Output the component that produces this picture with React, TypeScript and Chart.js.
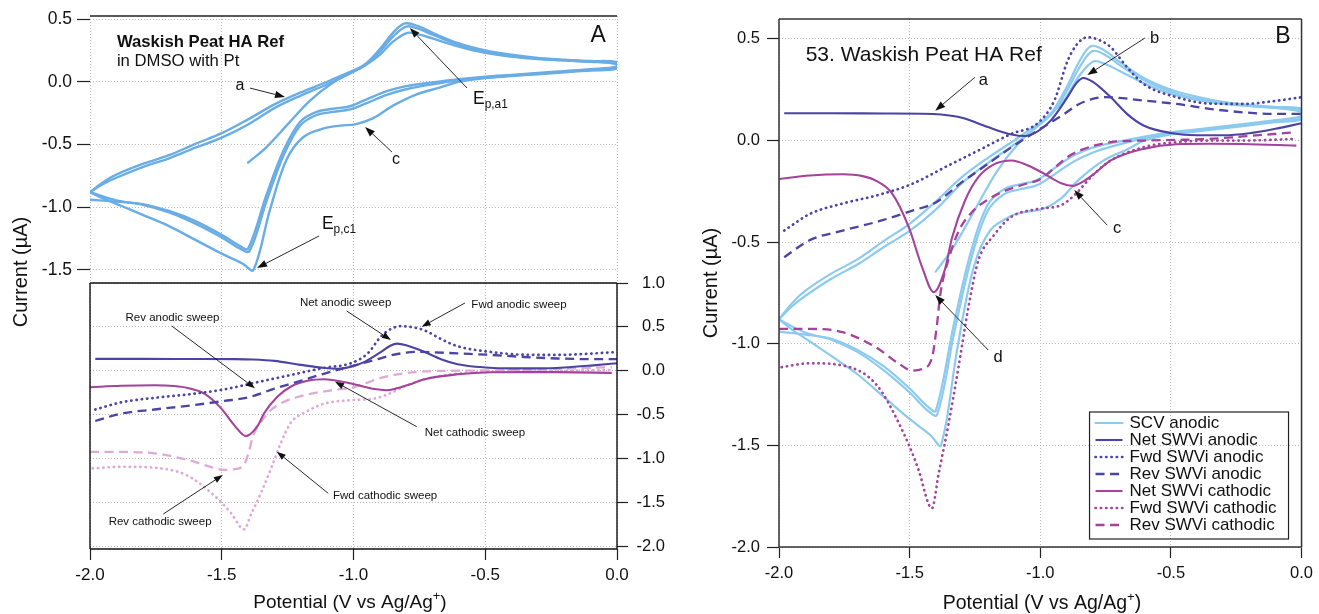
import React, { useEffect, useRef } from 'react';
import { Chart, registerables } from 'chart.js';
Chart.register(...registerables);

const FONT = '"Liberation Sans", Arial, Helvetica, sans-serif';
Chart.defaults.font.family = FONT;
Chart.defaults.color = '#111';

// ---------------- tick values ----------------
const xTicks = [-2.0, -1.5, -1.0, -0.5, 0.0];
const scvTopTicks = [0.5, 0.0, -0.5, -1.0, -1.5];
const swvRightTicks = [1.0, 0.5, 0.0, -0.5, -1.0, -1.5, -2.0];
const panelBTicks = [0.5, 0.0, -0.5, -1.0, -1.5, -2.0];

type P = [number, number];

// ---------------- SCV (staircase cyclic voltammetry), 3 cycles ----------------
const scv1Anodic: P[] = [[-1.40,-0.645],[-1.33,-0.52],[-1.25,-0.34],[-1.165,-0.15],[-1.08,-0.01],[-1.0,0.085],[-0.95,0.15],[-0.9,0.26],[-0.85,0.39],[-0.805,0.465],[-0.75,0.44],[-0.7,0.39],[-0.6,0.305],[-0.5,0.25],[-0.4,0.215],[-0.3,0.19],[-0.2,0.175],[-0.1,0.165],[0,0.155]];
const scv1Cathodic: P[] = [[0,0.105],[-0.1,0.09],[-0.2,0.075],[-0.3,0.06],[-0.4,0.045],[-0.5,0.03],[-0.6,0.0],[-0.67,-0.045],[-0.76,-0.10],[-0.85,-0.19],[-0.925,-0.29],[-0.99,-0.337],[-1.05,-0.35],[-1.11,-0.37],[-1.19,-0.44],[-1.254,-0.62],[-1.317,-1.02],[-1.38,-1.50],[-1.42,-1.45],[-1.5,-1.37],[-1.6,-1.26],[-1.7,-1.15],[-1.8,-1.06],[-1.88,-0.99],[-1.95,-0.93],[-2.0,-0.88]];
const scv2Anodic: P[] = [[-2.0,-0.88],[-1.95,-0.815],[-1.9,-0.765],[-1.8,-0.68],[-1.7,-0.61],[-1.6,-0.525],[-1.5,-0.445],[-1.4,-0.34],[-1.3,-0.21],[-1.2,-0.11],[-1.1,-0.02],[-1.0,0.08],[-0.95,0.14],[-0.9,0.24],[-0.85,0.36],[-0.8,0.44],[-0.75,0.42],[-0.7,0.375],[-0.6,0.295],[-0.5,0.24],[-0.4,0.205],[-0.3,0.185],[-0.2,0.17],[-0.1,0.16],[0,0.14]];
const scv2Cathodic: P[] = [[0,0.11],[-0.1,0.095],[-0.2,0.08],[-0.3,0.065],[-0.4,0.05],[-0.5,0.035],[-0.6,0.012],[-0.7,-0.02],[-0.8,-0.06],[-0.874,-0.105],[-0.95,-0.17],[-1.013,-0.22],[-1.077,-0.24],[-1.14,-0.265],[-1.203,-0.35],[-1.266,-0.59],[-1.33,-0.95],[-1.395,-1.35],[-1.43,-1.33],[-1.5,-1.24],[-1.6,-1.13],[-1.7,-1.04],[-1.8,-0.98],[-1.9,-0.945],[-2.0,-0.88]];
const scv3Anodic: P[] = [[-2.0,-0.88],[-1.95,-0.80],[-1.9,-0.74],[-1.8,-0.655],[-1.7,-0.585],[-1.6,-0.495],[-1.5,-0.41],[-1.4,-0.30],[-1.3,-0.18],[-1.2,-0.085],[-1.1,0.0],[-1.0,0.09],[-0.95,0.14],[-0.9,0.215],[-0.85,0.32],[-0.795,0.39],[-0.75,0.375],[-0.7,0.345],[-0.6,0.28],[-0.5,0.23],[-0.4,0.2],[-0.3,0.18],[-0.2,0.17],[-0.1,0.16],[0,0.15]];
const scv3Cathodic: P[] = [[0,0.12],[-0.1,0.1],[-0.2,0.085],[-0.3,0.07],[-0.4,0.055],[-0.5,0.04],[-0.6,0.02],[-0.7,-0.005],[-0.8,-0.035],[-0.874,-0.075],[-0.95,-0.14],[-1.013,-0.195],[-1.077,-0.215],[-1.14,-0.24],[-1.203,-0.32],[-1.266,-0.55],[-1.33,-0.90],[-1.40,-1.33],[-1.43,-1.31],[-1.5,-1.22],[-1.6,-1.11],[-1.7,-1.03],[-1.8,-0.975],[-1.9,-0.955],[-2.0,-0.94]];

// ---------------- SWVi sweeps ----------------
const netAnodic: P[] = [[-1.98,0.134],[-1.8,0.134],[-1.6,0.133],[-1.45,0.132],[-1.38,0.128],[-1.3,0.112],[-1.2,0.066],[-1.11,0.03],[-1.06,0.022],[-1.01,0.045],[-0.96,0.098],[-0.9,0.205],[-0.86,0.285],[-0.835,0.308],[-0.80,0.29],[-0.73,0.213],[-0.668,0.131],[-0.605,0.074],[-0.5,0.037],[-0.4,0.026],[-0.3,0.026],[-0.2,0.036],[-0.1,0.058],[0,0.085]];
const fwdAnodic: P[] = [[-1.98,-0.443],[-1.88,-0.36],[-1.756,-0.31],[-1.617,-0.267],[-1.49,-0.213],[-1.364,-0.131],[-1.237,-0.049],[-1.11,0.033],[-1.01,0.085],[-0.946,0.197],[-0.896,0.39],[-0.858,0.476],[-0.82,0.508],[-0.77,0.492],[-0.73,0.459],[-0.668,0.361],[-0.605,0.279],[-0.478,0.213],[-0.352,0.182],[-0.225,0.18],[-0.1,0.195],[0,0.213]];
const revAnodic: P[] = [[-1.98,-0.574],[-1.882,-0.49],[-1.756,-0.443],[-1.617,-0.397],[-1.49,-0.345],[-1.40,-0.305],[-1.30,-0.205],[-1.237,-0.148],[-1.11,-0.033],[-1.01,0.049],[-0.908,0.131],[-0.858,0.175],[-0.80,0.205],[-0.756,0.214],[-0.7,0.21],[-0.605,0.197],[-0.478,0.18],[-0.352,0.156],[-0.225,0.139],[-0.1,0.131],[0,0.131]];
const netCathodic: P[] = [[-2.0,-0.189],[-1.882,-0.172],[-1.756,-0.166],[-1.68,-0.175],[-1.63,-0.197],[-1.566,-0.262],[-1.503,-0.427],[-1.452,-0.624],[-1.408,-0.746],[-1.364,-0.63],[-1.338,-0.48],[-1.288,-0.295],[-1.237,-0.18],[-1.174,-0.115],[-1.11,-0.098],[-1.047,-0.123],[-0.984,-0.164],[-0.92,-0.21],[-0.875,-0.223],[-0.84,-0.205],[-0.794,-0.164],[-0.73,-0.098],[-0.605,-0.041],[-0.478,-0.018],[-0.352,-0.016],[-0.225,-0.017],[-0.02,-0.025]];
const fwdCathodic: P[] = [[-1.99,-1.115],[-1.882,-1.096],[-1.756,-1.107],[-1.63,-1.197],[-1.54,-1.394],[-1.465,-1.624],[-1.427,-1.79],[-1.415,-1.81],[-1.389,-1.64],[-1.351,-1.394],[-1.313,-1.116],[-1.275,-0.82],[-1.237,-0.59],[-1.18,-0.47],[-1.11,-0.375],[-1.01,-0.337],[-0.92,-0.318],[-0.87,-0.27],[-0.794,-0.164],[-0.73,-0.098],[-0.605,-0.033],[-0.478,-0.008],[-0.352,0.0],[-0.225,0.0],[-0.02,0.008]];
const revCathodic: P[] = [[-2.0,-0.927],[-1.882,-0.927],[-1.756,-0.943],[-1.63,-1.017],[-1.54,-1.099],[-1.49,-1.132],[-1.452,-1.124],[-1.414,-1.066],[-1.395,-0.902],[-1.383,-0.76],[-1.35,-0.58],[-1.31,-0.44],[-1.26,-0.35],[-1.2,-0.29],[-1.14,-0.25],[-1.06,-0.215],[-1.0,-0.19],[-0.95,-0.14],[-0.9,-0.085],[-0.84,-0.045],[-0.73,-0.008],[-0.605,0.0],[-0.478,0.003],[-0.352,0.008],[-0.225,0.02],[-0.02,0.041]];

// ---------------- styles ----------------
const SCV_A = '#69ade4';
const SCV_B = '#8ccaef';
const ANODIC = '#4b44a5';
const CATHODIC = '#a3439c';
const CATHODIC_LIGHT = '#dfa9d5';
const GRID = '#b8b8b8';
const GRID_DASH = [1, 2];
const DOT = [0.3, 5];
const DASH = [9, 5.5];

type Seg = { t: string; sup?: boolean; sub?: boolean };

function drawRich(ctx: CanvasRenderingContext2D, segs: Seg[], x: number, y: number, size: number, weight: string, align: string, rotate = false) {
  const fontFor = (s: Seg) => `${weight} ${s.sup || s.sub ? size * 0.68 : size}px ${FONT}`;
  const widths = segs.map((s) => { ctx.font = fontFor(s); return ctx.measureText(s.t).width; });
  const total = widths.reduce((a, b) => a + b, 0);
  ctx.save();
  ctx.translate(x, y);
  if (rotate) ctx.rotate(-Math.PI / 2);
  let cx = align === 'left' ? 0 : align === 'right' ? -total : -total / 2;
  ctx.textBaseline = 'middle';
  ctx.textAlign = 'left';
  ctx.fillStyle = '#111';
  segs.forEach((s, i) => {
    ctx.font = fontFor(s);
    const dy = s.sup ? -size * 0.36 : s.sub ? size * 0.32 : 0;
    ctx.fillText(s.t, cx, dy);
    cx += widths[i];
  });
  ctx.restore();
}

function drawArrow(ctx: CanvasRenderingContext2D, x1: number, y1: number, x2: number, y2: number, L: number) {
  const ang = Math.atan2(y2 - y1, x2 - x1);
  const Wd = L * 0.36;
  const bx = x2 - L * Math.cos(ang), by = y2 - L * Math.sin(ang);
  ctx.strokeStyle = '#111';
  ctx.lineWidth = 0.9;
  ctx.setLineDash([]);
  ctx.beginPath(); ctx.moveTo(x1, y1); ctx.lineTo(bx, by); ctx.stroke();
  ctx.fillStyle = '#111';
  ctx.beginPath();
  ctx.moveTo(x2, y2);
  ctx.lineTo(bx + Wd * Math.sin(ang), by - Wd * Math.cos(ang));
  ctx.lineTo(bx - Wd * Math.sin(ang), by + Wd * Math.cos(ang));
  ctx.closePath(); ctx.fill();
}

type Note = { segs: Seg[]; x: number; y: number; size: number; bold?: boolean; align?: string; arrow?: number[]; head?: number };

const notesPlugin = (id: string, notes: Note[]) => ({
  id,
  afterDatasetsDraw(chart: any) {
    const { ctx } = chart;
    const xs = chart.scales.x, ys = chart.scales.y;
    ctx.save();
    for (const n of notes) {
      if (n.arrow) {
        const [a, b, c, d] = n.arrow;
        drawArrow(ctx, xs.getPixelForValue(a), ys.getPixelForValue(b), xs.getPixelForValue(c), ys.getPixelForValue(d), n.head || 10);
      }
      drawRich(ctx, n.segs, xs.getPixelForValue(n.x), ys.getPixelForValue(n.y), n.size, n.bold ? 'bold' : 'normal', n.align || 'center');
    }
    ctx.restore();
  },
});

type Title = { segs: Seg[]; x: number; y: number; size: number; rotate?: boolean };
const titlesPlugin = (id: string, titles: Title[]) => ({
  id,
  afterDraw(chart: any) {
    for (const t of titles) drawRich(chart.ctx, t.segs, t.x, t.y, t.size, 'normal', 'center', !!t.rotate);
  },
});

const framePlugin = (id: string, sides: string[], color: string, width: number) => ({
  id,
  afterDraw(chart: any) {
    const { ctx, chartArea: ca } = chart;
    ctx.save();
    ctx.strokeStyle = color; ctx.lineWidth = width; ctx.setLineDash([]);
    ctx.beginPath();
    if (sides.includes('top')) { ctx.moveTo(ca.left, ca.top); ctx.lineTo(ca.right, ca.top); }
    if (sides.includes('right')) { ctx.moveTo(ca.right, ca.top); ctx.lineTo(ca.right, ca.bottom); }
    if (sides.includes('bottom')) { ctx.moveTo(ca.left, ca.bottom); ctx.lineTo(ca.right, ca.bottom); }
    if (sides.includes('left')) { ctx.moveTo(ca.left, ca.top); ctx.lineTo(ca.left, ca.bottom); }
    ctx.stroke();
    ctx.restore();
  },
});

const legendPlugin = {
  id: 'legendB',
  afterDraw(chart: any) {
    const { ctx, chartArea: ca } = chart;
    const w = 199, h = 127;
    const x0 = ca.right - 13 - w, y0 = ca.bottom - 8 - h;
    ctx.save();
    ctx.strokeStyle = '#222'; ctx.lineWidth = 1.2; ctx.setLineDash([]);
    ctx.strokeRect(x0, y0, w, h);
    const items = chart.data.datasets.filter((d: any) => d.legendRank !== undefined).sort((a: any, b: any) => a.legendRank - b.legendRank);
    items.forEach((d: any, i: number) => {
      const yy = y0 + 11 + i * 17;
      ctx.strokeStyle = d.borderColor; ctx.lineWidth = d.borderWidth;
      ctx.lineCap = d.borderCapStyle || 'butt';
      ctx.setLineDash(d.borderDash || []);
      ctx.beginPath(); ctx.moveTo(x0 + 6, yy); ctx.lineTo(x0 + 33, yy); ctx.stroke();
      ctx.setLineDash([]);
      ctx.fillStyle = '#111'; ctx.font = `17px ${FONT}`; ctx.textBaseline = 'middle'; ctx.textAlign = 'left';
      ctx.fillText(d.label, x0 + 40, yy);
    });
    ctx.restore();
  },
};

const pts = (a: P[]) => a.map(([x, y]) => ({ x, y }));

function scvSets(color: string, width: number) {
  const cycles = [[...scv1Anodic, ...scv1Cathodic], [...scv2Anodic, ...scv2Cathodic], [...scv3Anodic, ...scv3Cathodic]];
  return cycles.map((c, i) => ({
    label: i === 0 ? 'SCV anodic' : '',
    legendRank: i === 0 ? 0 : undefined,
    data: pts(c), borderColor: color, borderWidth: width, tension: 0.35, pointRadius: 0, fill: false,
    borderCapStyle: 'round', borderJoinStyle: 'round',
  }));
}

function swvSets(cathLight: boolean) {
  const cc = cathLight ? CATHODIC_LIGHT : CATHODIC;
  const mk = (label: string, data: P[], color: string, kind: string, rank: number) => ({
    label, legendRank: rank, data: pts(data), borderColor: color,
    borderWidth: kind === 'dot' ? 2.7 : kind === 'dash' ? 2.3 : 2.1,
    borderDash: kind === 'dot' ? DOT : kind === 'dash' ? DASH : [],
    borderCapStyle: kind === 'dot' ? 'round' : 'butt',
    cubicInterpolationMode: 'monotone', pointRadius: 0, fill: false,
  });
  return [
    mk('Net SWVi anodic', netAnodic, ANODIC, 'solid', 1),
    mk('Fwd SWVi anodic', fwdAnodic, ANODIC, 'dot', 2),
    mk('Rev SWVi anodic', revAnodic, ANODIC, 'dash', 3),
    mk('Net SWVi cathodic', netCathodic, CATHODIC, 'solid', 4),
    mk('Fwd SWVi cathodic', fwdCathodic, cc, 'dot', 5),
    mk('Rev SWVi cathodic', revCathodic, cc, 'dash', 6),
  ];
}

const fmt = (v: any) => Number(v).toFixed(1);
const setTicks = (vals: number[]) => (s: any) => { s.ticks = vals.map((v) => ({ value: v })); };

const base = {
  responsive: false, animation: false, devicePixelRatio: 1, events: [],
  plugins: { legend: { display: false }, tooltip: { enabled: false }, title: { display: false } },
  elements: { point: { radius: 0 } },
};

function cfgA1(): any {
  return {
    type: 'line',
    data: { datasets: scvSets(SCV_A, 2.4) },
    options: {
      ...base,
      layout: { padding: { left: 0, top: 16, right: 702, bottom: 331 } },
      scales: {
        x: { type: 'linear', min: -2, max: 0, position: 'bottom', afterBuildTicks: setTicks(xTicks),
          ticks: { display: false }, grid: { color: GRID, drawTicks: false }, border: { display: false, dash: GRID_DASH },
          afterFit: (s: any) => { s.height = 0; } },
        y: { type: 'linear', min: -1.6036, max: 0.524, position: 'left', afterBuildTicks: setTicks(scvTopTicks),
          ticks: { font: { size: 17.5 }, padding: 5, callback: fmt, autoSkip: false, color: '#111' },
          grid: { color: GRID, tickColor: '#222', tickLength: 13, tickWidth: 1.2 }, border: { display: false, dash: GRID_DASH },
          afterFit: (s: any) => { s.width = 90; } },
      },
    },
    plugins: [
      framePlugin('frameA1', ['top'], '#222', 1.4),
      notesPlugin('notesA1', [
        { segs: [{ t: 'Waskish Peat HA Ref' }], x: -1.898, y: 0.317, size: 16.7, bold: true, align: 'left' },
        { segs: [{ t: 'in DMSO with Pt' }], x: -1.898, y: 0.165, size: 16.7, align: 'left' },
        { segs: [{ t: 'A' }], x: -0.042, y: 0.365, size: 23, align: 'right' },
        { segs: [{ t: 'a' }], x: -1.431, y: -0.034, size: 16, arrow: [-1.393, -0.05, -1.26, -0.121] },
        { segs: [{ t: 'c' }], x: -0.839, y: -0.623, size: 16, arrow: [-0.854, -0.56, -0.956, -0.36] },
        { segs: [{ t: 'E' }, { t: 'p,a1', sub: true }], x: -0.5465, y: -0.137, size: 17.5, align: 'left', arrow: [-0.569, -0.05, -0.786, 0.428] },
        { segs: [{ t: 'E' }, { t: 'p,c1', sub: true }], x: -1.12, y: -1.133, size: 17.5, align: 'left', arrow: [-1.131, -1.229, -1.366, -1.484] },
      ]),
    ],
  };
}

function cfgA2(): any {
  return {
    type: 'line',
    data: { datasets: swvSets(true) },
    options: {
      ...base,
      layout: { padding: { left: 90, top: 283, right: 654, bottom: 0 } },
      scales: {
        x: { type: 'linear', min: -2, max: 0, position: 'bottom', afterBuildTicks: setTicks(xTicks),
          ticks: { font: { size: 17 }, padding: 5, callback: fmt, autoSkip: false, maxRotation: 0, color: '#111' },
          grid: { color: GRID, tickColor: '#222', tickLength: 11, tickWidth: 1.2 }, border: { display: false, dash: GRID_DASH },
          afterFit: (s: any) => { s.height = 65; } },
        y: { type: 'linear', min: -2.034, max: 1.0, position: 'right', afterBuildTicks: setTicks(swvRightTicks),
          ticks: { font: { size: 16.5 }, padding: 6, crossAlign: 'far', callback: fmt, autoSkip: false, color: '#111' },
          grid: { color: GRID, tickColor: '#222', tickLength: 11, tickWidth: 1.2 }, border: { display: false, dash: GRID_DASH },
          afterFit: (s: any) => { s.width = 48; } },
      },
    },
    plugins: [
      framePlugin('frameA2', ['top', 'right', 'bottom', 'left'], '#111', 1.4),
      notesPlugin('notesA2', [
        { segs: [{ t: 'Net anodic sweep' }], x: -1.03, y: 0.772, size: 11.5, head: 9, arrow: [-1.026, 0.681, -0.858, 0.35] },
        { segs: [{ t: 'Fwd anodic sweep' }], x: -0.372, y: 0.749, size: 11.5, head: 9, arrow: [-0.577, 0.772, -0.741, 0.502] },
        { segs: [{ t: 'Rev anodic sweep' }], x: -1.687, y: 0.601, size: 11.5, head: 9, arrow: [-1.69, 0.51, -1.374, -0.201] },
        { segs: [{ t: 'Net cathodic sweep' }], x: -0.539, y: -0.711, size: 11.5, head: 9, arrow: [-0.76, -0.639, -1.07, -0.126] },
        { segs: [{ t: 'Fwd cathodic sweep' }], x: -0.88, y: -1.43, size: 11.5, head: 9, arrow: [-1.096, -1.399, -1.291, -0.924] },
        { segs: [{ t: 'Rev cathodic sweep' }], x: -1.734, y: -1.726, size: 11.5, head: 9, arrow: [-1.722, -1.635, -1.496, -1.19] },
      ]),
      titlesPlugin('titlesA', [
        { segs: [{ t: 'Current (µA)' }], x: 21, y: 272, size: 20, rotate: true },
        { segs: [{ t: 'Potential (V vs Ag/Ag' }, { t: '+', sup: true }, { t: ')' }], x: 350, y: 603, size: 19 },
      ]),
    ],
  };
}

function cfgB(): any {
  const swv = swvSets(false);
  const scv = scvSets(SCV_B, 2.2);
  return {
    type: 'line',
    data: { datasets: [...swv, ...scv] },
    options: {
      ...base,
      layout: { padding: { left: 730, top: 19, right: 13, bottom: 0 } },
      scales: {
        x: { type: 'linear', min: -2, max: 0, position: 'bottom', afterBuildTicks: setTicks(xTicks),
          ticks: { font: { size: 16.5 }, padding: 6, callback: fmt, autoSkip: false, maxRotation: 0, color: '#111' },
          grid: { color: GRID, tickColor: '#222', tickLength: 11, tickWidth: 1.2 }, border: { display: false, dash: GRID_DASH },
          afterFit: (s: any) => { s.height = 67; } },
        y: { type: 'linear', min: -2.0, max: 0.598, position: 'left', afterBuildTicks: setTicks(panelBTicks),
          ticks: { font: { size: 16.5 }, padding: 7, callback: fmt, autoSkip: false, color: '#111' },
          grid: { color: GRID, tickColor: '#222', tickLength: 12, tickWidth: 1.2 }, border: { display: false, dash: GRID_DASH },
          afterFit: (s: any) => { s.width = 49; } },
      },
    },
    plugins: [
      framePlugin('frameB', ['top', 'right', 'bottom', 'left'], '#333', 1.5),
      legendPlugin,
      notesPlugin('notesB', [
        { segs: [{ t: '53. Waskish Peat HA Ref' }], x: -1.898, y: 0.421, size: 21, align: 'left' },
        { segs: [{ t: 'B' }], x: -0.042, y: 0.509, size: 23, align: 'right' },
        { segs: [{ t: 'a' }], x: -1.218, y: 0.298, size: 16.5, arrow: [-1.25, 0.311, -1.402, 0.147] },
        { segs: [{ t: 'b' }], x: -0.562, y: 0.504, size: 16.5, arrow: [-0.6, 0.504, -0.82, 0.322] },
        { segs: [{ t: 'c' }], x: -0.706, y: -0.435, size: 16.5, arrow: [-0.744, -0.416, -0.87, -0.244] },
        { segs: [{ t: 'd' }], x: -1.161, y: -1.065, size: 16.5, arrow: [-1.199, -1.031, -1.402, -0.76] },
      ]),
      titlesPlugin('titlesB', [
        { segs: [{ t: 'Current (µA)' }], x: 711, y: 283, size: 20, rotate: true },
        { segs: [{ t: 'Potential (V vs Ag/Ag' }, { t: '+', sup: true }, { t: ')' }], x: 1042, y: 604, size: 19.5 },
      ]),
    ],
  };
}

const W = 1319, H = 614;

export default function App() {
  const r1 = useRef<HTMLCanvasElement>(null);
  const r2 = useRef<HTMLCanvasElement>(null);
  const r3 = useRef<HTMLCanvasElement>(null);
  useEffect(() => {
    document.body.style.margin = '0';
    const charts = [
      new Chart(r1.current as HTMLCanvasElement, cfgA1()),
      new Chart(r2.current as HTMLCanvasElement, cfgA2()),
      new Chart(r3.current as HTMLCanvasElement, cfgB()),
    ];
    return () => charts.forEach((c) => c.destroy());
  }, []);
  const st: any = { position: 'absolute', left: 0, top: 0, width: W, height: H };
  return (
    <div style={{ position: 'absolute', left: 0, top: 0, width: W, height: H, background: '#fff' }}>
      <canvas ref={r1} width={W} height={H} style={st} />
      <canvas ref={r2} width={W} height={H} style={st} />
      <canvas ref={r3} width={W} height={H} style={st} />
    </div>
  );
}
